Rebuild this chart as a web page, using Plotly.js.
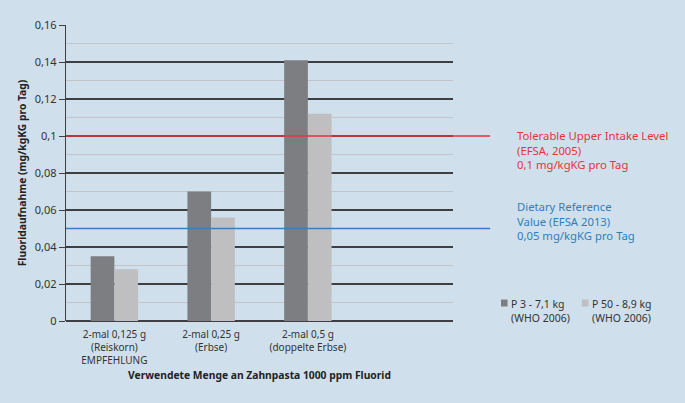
<!DOCTYPE html>
<html><head><meta charset="utf-8">
<script src="https://cdn.plot.ly/plotly-3.0.1.min.js"></script>
<style>body{margin:0;background:#cfe0ec}#c{width:685px;height:403px}</style>
</head><body><div id="c"></div>
<script>
const categories = ["2-mal 0,125 g<br>(Reiskorn)<br>EMPFEHLUNG", "2-mal 0,25 g<br>(Erbse)", "2-mal 0,5 g<br>(doppelte Erbse)"];
const seriesNames = ["P 3 - 7,1 kg<br>(WHO 2006)", "P 50 - 8,9 kg<br>(WHO 2006)"];
const seriesColors = ["#7d7e82", "#bfbfc1"];
const p3Values = [0.035, 0.070, 0.141];
const p50Values = [0.028, 0.056, 0.112];
const yTickVals = [0, 0.02, 0.04, 0.06, 0.08, 0.1, 0.12, 0.14, 0.16];
const yTickText = ["0", "0,02", "0,04", "0,06", "0,08", "0,1", "0,12", "0,14", "0,16"];
const upperLimit = 0.1;
const referenceValue = 0.05;
const upperLimitText = "Tolerable Upper Intake Level<br>(EFSA, 2005)<br>0,1 mg/kgKG pro Tag";
const referenceText = "Dietary Reference<br>Value (EFSA 2013)<br>0,05 mg/kgKG pro Tag";

const font = "'Noto Sans', 'Open Sans', sans-serif";
const data = [
  {type:'bar', name:seriesNames[0], x:categories, y:p3Values, marker:{color:seriesColors[0]}, showlegend:false},
  {type:'bar', name:seriesNames[1], x:categories, y:p50Values, marker:{color:seriesColors[1]}, showlegend:false}
];
// custom legend (squares + text) placed right of plot
const legendX = [[1.124, 1.141, 1.145], [1.333, 1.350, 1.354]];
const legendShapes = legendX.map((p, i) => ({type:'rect', xref:'paper', yref:'paper', x0:p[0], x1:p[1], y0:0.049, y1:0.0725,
  fillcolor:seriesColors[i], line:{width:0}}));
const legendAnn = legendX.map((p, i) => ({xref:'paper', yref:'paper', x:p[2], y:0.087, xanchor:'left', yanchor:'top',
  align:'left', showarrow:false, text:seriesNames[i], font:{size:10.5, color:'#333'}}));

const layout = {
  width:685, height:403,
  paper_bgcolor:'#cfe0ec', plot_bgcolor:'#cfe0ec',
  margin:{l:66, r:232, t:25, b:82, autoexpand:false},
  font:{family:font, size:11, color:'#333'},
  barmode:'group', bargap:0.51, bargroupgap:0,
  showlegend:false,
  xaxis:{type:'category', range:[-0.5, 3.5], showgrid:false, ticks:'', showline:false,
    zeroline:false, tickfont:{size:10, color:'#333'}, ticklabelstandoff:6,
    title:{text:'<b>Verwendete Menge an Zahnpasta 1000 ppm Fluorid</b>', font:{size:10.3, color:'#222'}, standoff:5}},
  yaxis:{range:[0, 0.16], tickvals:yTickVals, ticktext:yTickText, showgrid:true,
    gridcolor:'#3d3f42', gridwidth:1.3, showline:true, linecolor:'#3d3f42', linewidth:1.3,
    ticks:'outside', ticklen:6, tickcolor:'#3d3f42', zeroline:true, zerolinecolor:'#3d3f42', zerolinewidth:1.3,
    minor:{dtick:0.01, tick0:0, showgrid:true, gridcolor:'#c2c4c7', gridwidth:1.5, ticks:''},
    tickfont:{size:11, color:'#333'},
    title:{text:'<b>Fluoridaufnahme (mg/kgKG pro Tag)</b>', font:{size:10.3, color:'#222'}, standoff:6}},
  shapes:[
    {type:'line', xref:'paper', yref:'y', x0:0, x1:1.096, y0:upperLimit, y1:upperLimit, line:{color:'#e8323c', width:1.5}},
    {type:'line', xref:'paper', yref:'y', x0:0, x1:1.096, y0:referenceValue, y1:referenceValue, line:{color:'#3a7cc0', width:1.5}}
  ].concat(legendShapes),
  annotations:[
    {xref:'paper', yref:'paper', x:1.16, y:0.66, xanchor:'left', yanchor:'top', align:'left', showarrow:false,
     text:upperLimitText, font:{size:11.3, color:'#e8323c'}},
    {xref:'paper', yref:'paper', x:1.16, y:0.418, xanchor:'left', yanchor:'top', align:'left', showarrow:false,
     text:referenceText, font:{size:11.3, color:'#2f7dbf'}}
  ].concat(legendAnn)
};
Plotly.newPlot('c', data, layout, {displayModeBar:false, staticPlot:true});
</script></body></html>
